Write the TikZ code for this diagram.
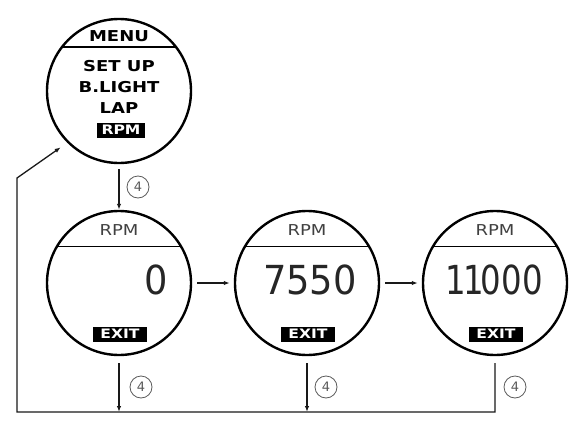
\documentclass[tikz,border=0pt]{standalone}
\usepackage{fontspec}
\setmainfont{DejaVu Sans}
\newfontfamily\pixfont[FakeStretch=1.2]{DejaVu Sans}
\newfontfamily\segfont[FakeStretch=0.92]{DejaVu Sans}
\usetikzlibrary{arrows.meta, positioning, calc}
\definecolor{hitamps}{RGB}{25,25,25}
\definecolor{abups}{RGB}{90,90,90}

\begin{document}
\begin{tikzpicture}[x=1pt, y=-1pt,
        every node/.style={font=\pixfont},
        disp/.style={circle, draw=black, line width=2.4pt, minimum size=144pt, inner sep=0pt},
        divline/.style={line width=1.8pt},
        title/.style={font=\pixfont\bfseries\fontsize{15}{15}\selectfont, inner sep=1pt},
        rpmtitle/.style={font=\pixfont\fontsize{15}{15}\selectfont, text=black!75, inner sep=1pt},
        inv/.style={fill=black, text=white, font=\pixfont\bfseries\fontsize{13}{13}\selectfont,
                    inner sep=1pt, minimum height=15pt},
        seg/.style={font=\segfont\fontsize{40}{40}\selectfont, text=black!85, inner sep=0pt},
        stepnum/.style={circle, draw=abups, text=abups, line width=0.8pt, minimum size=22pt,
                        inner sep=0pt, font=\fontsize{13}{13}\selectfont},
        arr/.style={-{Latex[length=6pt,width=4.5pt]}, line width=1.3pt, hitamps}
    ]
        \useasboundingbox (0,0) rectangle (583,428);
        \node[disp] (menu) at (119,91) {};
        \draw[divline] (menu.143) -- (menu.37);
        \node[title] (mtitle) at (119,36)  {MENU};
        \node[title] (setup)  at (119,66)  {SET UP};
        \node[title] (blight) at (119,87)  {B.LIGHT};
        \node[title] (lap)    at (119,108) {LAP};
        \node[inv, minimum width=48pt] (msel) at (121,130) {RPM};

        \node[disp] (rpmA) at (119,283) {};
        \node[disp] (rpmB) at (307,283) {};
        \node[disp] (rpmC) at (495,283) {};
        \draw[divline] (rpmA.150) -- (rpmA.30);
        \draw[divline] (rpmB.150) -- (rpmB.30);
        \draw[divline] (rpmC.150) -- (rpmC.30);
        \node[rpmtitle] (tA) at (119,230) {RPM};
        \node[rpmtitle] (tB) at (307,230) {RPM};
        \node[rpmtitle] (tC) at (495,230) {RPM};
        \node[seg, anchor=east] (vA) at (168,280) {0};
        \node[seg, anchor=east] (vB) at (357,280) {7550};
        \node[seg, anchor=east] (vC) at (543,280) {\scalebox{0.88}[1]{1\kern-3pt1\kern-3pt000}};
        \node[inv, minimum width=54pt] (xA) at (120,334) {EXIT};
        \node[inv, minimum width=54pt] (xB) at (308,334) {EXIT};
        \node[inv, minimum width=54pt] (xC) at (496,334) {EXIT};

        \coordinate (base) at (17,412);
        \coordinate (bend) at (17,178);
        \draw[arr, shorten <=5pt] (menu) -- (rpmA);
        \draw[arr, shorten <=5pt, shorten >=4pt] (rpmA) -- (rpmB);
        \draw[arr, shorten <=5pt, shorten >=4pt] (rpmB) -- (rpmC);
        \draw[arr, shorten <=7pt] (rpmA.south) -- (rpmA.south |- base);
        \draw[arr, shorten <=7pt] (rpmB.south) -- (rpmB.south |- base);
        \draw[arr, shorten <=7pt, shorten >=8pt] (rpmC.south) -- (rpmC.south |- base)
            -- (base) -- (bend) -- (menu.225);

        \node[stepnum] (n1) at (138,187) {4};
        \node[stepnum] (n2) at (141,387) {4};
        \node[stepnum] (n3) at (326,387) {4};
        \node[stepnum] (n4) at (515,387) {4};
\end{tikzpicture}
\end{document}
